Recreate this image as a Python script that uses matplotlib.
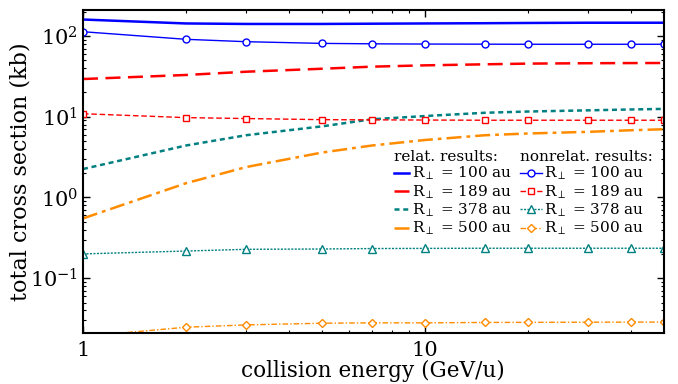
import matplotlib
matplotlib.use('Agg')
import matplotlib.pyplot as plt
from matplotlib.ticker import FixedLocator, FuncFormatter, NullFormatter, LogLocator

plt.rcParams['font.family'] = 'DejaVu Serif'
plt.rcParams['mathtext.fontset'] = 'dejavuserif'

# collision energy (GeV/u)
energy = [1, 2, 3, 5, 7, 10, 15, 20, 30, 40, 50]

# relativistic results (kb)
rel_100 = [160, 143, 141, 141, 142, 143, 144, 145, 146, 146, 146]
rel_189 = [29.3, 32.9, 36.1, 39.3, 41.7, 43.3, 44.6, 45.5, 46.0, 46.2, 46.3]
rel_378 = [2.25, 4.4, 5.9, 7.6, 9.3, 10.2, 11.2, 11.6, 12.0, 12.3, 12.5]
rel_500 = [0.55, 1.5, 2.38, 3.6, 4.4, 5.15, 5.9, 6.2, 6.5, 6.8, 7.0]

# nonrelativistic results (kb)
nonrel_100 = [113, 91, 85, 81, 80, 79.5, 79.2, 79, 79, 79, 79]
nonrel_189 = [10.9, 9.75, 9.5, 9.2, 9.15, 9.1, 9.05, 9.05, 9.05, 9.05, 9.05]
nonrel_378 = [0.200, 0.217, 0.228, 0.230, 0.233, 0.234, 0.235, 0.235, 0.235, 0.235, 0.235]
nonrel_500 = [0.019, 0.0247, 0.0264, 0.0277, 0.028, 0.028, 0.0283, 0.0284, 0.0285, 0.0286, 0.0286]

labels = [r'R$_\perp$ = 100 au', r'R$_\perp$ = 189 au',
          r'R$_\perp$ = 378 au', r'R$_\perp$ = 500 au']
colors = ['#0000ff', '#ff0000', '#008080', '#ff8c00']

fig = plt.figure(figsize=(6.78, 3.84), dpi=100)
ax = fig.add_axes([0.1224, 0.133, 0.8566, 0.841])

rel_styles = ['-', (0, (6, 3)), (0, (2, 1.5)), (0, (6, 2, 1.5, 2))]
rel_lines = []
for y, c, ls, lab in zip([rel_100, rel_189, rel_378, rel_500], colors, rel_styles, labels):
    l, = ax.plot(energy, y, color=c, linestyle=ls, linewidth=1.8, label=lab)
    rel_lines.append(l)

nonrel_styles = ['-', (0, (4, 2)), (0, (1.5, 1)), (0, (4, 1.5, 1, 1.5))]
markers = ['o', 's', '^', 'D']
msizes = [5, 5, 6, 4.5]
nonrel_lines = []
for y, c, ls, m, ms, lab in zip([nonrel_100, nonrel_189, nonrel_378, nonrel_500],
                                colors, nonrel_styles, markers, msizes, labels):
    l, = ax.plot(energy, y, color=c, linestyle=ls, linewidth=1.0, marker=m,
                 markersize=ms, markerfacecolor='white', markeredgecolor=c,
                 markeredgewidth=1.0, label=lab)
    nonrel_lines.append(l)

ax.set_xscale('log')
ax.set_yscale('log')
ax.set_xlim(1, 50)
ax.set_ylim(0.021, 210)

ax.xaxis.set_major_locator(FixedLocator([1, 10]))
ax.xaxis.set_major_formatter(FuncFormatter(lambda v, p: '%g' % v))
ax.xaxis.set_minor_locator(LogLocator(base=10, subs=range(2, 10)))
ax.xaxis.set_minor_formatter(NullFormatter())
ax.yaxis.set_minor_locator(LogLocator(base=10, subs=range(2, 10)))
ax.yaxis.set_minor_formatter(NullFormatter())

ax.tick_params(which='both', direction='in', top=True, right=True, labelsize=15)
ax.tick_params(which='major', length=5, width=1)
ax.tick_params(which='minor', length=2.5, width=0.8)
ax.tick_params(axis='x', pad=6)
for sp in ax.spines.values():
    sp.set_linewidth(1.5)

ax.set_xlabel('collision energy (GeV/u)', fontsize=15.5, labelpad=0)
ax.set_ylabel('total cross section (kb)', fontsize=16, labelpad=-1)

leg1 = ax.legend(handles=rel_lines, title='relat. results:', loc='upper left',
                 bbox_to_anchor=(0.535, 0.566), frameon=False, fontsize=11,
                 title_fontsize=11, alignment='left', handlelength=1.0,
                 handletextpad=0.2, labelspacing=0.06, borderaxespad=0, borderpad=0)
ax.add_artist(leg1)
leg2 = ax.legend(handles=nonrel_lines, title='nonrelat. results:', loc='upper left',
                 bbox_to_anchor=(0.752, 0.566), frameon=False, fontsize=11,
                 title_fontsize=11, alignment='left', handlelength=1.45,
                 handletextpad=0.13, labelspacing=0.06, borderaxespad=0, borderpad=0)

fig.savefig('out.png', dpi=100)
